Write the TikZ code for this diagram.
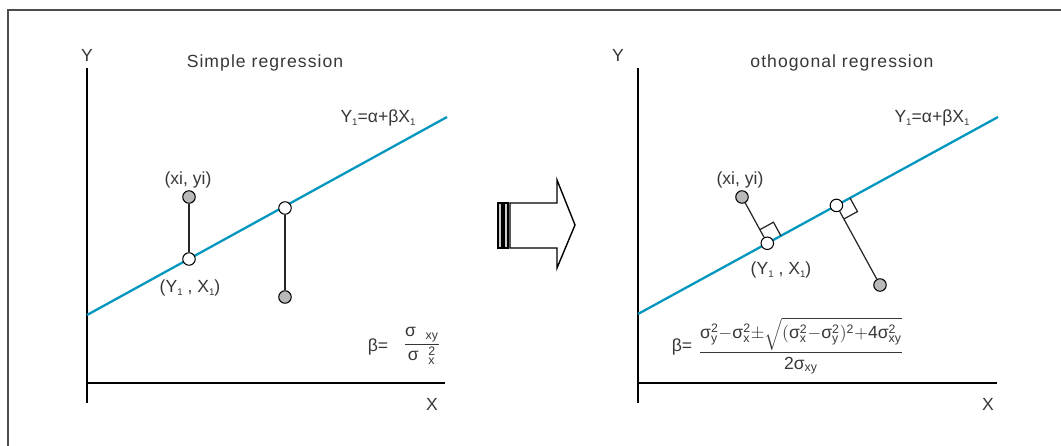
\documentclass[tikz,border=0pt]{standalone}
\usepackage{amsmath}
\usepackage{fontspec}
\setmainfont{Liberation Sans}
\usetikzlibrary{calc}
\definecolor{regblue}{RGB}{0,150,190}
\definecolor{txtgray}{RGB}{55,55,55}
\newcommand{\sgm}{\text{σ}}
\newcommand{\tx}[1]{\text{#1}}
\newcommand{\sbs}[1]{\raisebox{-0.3ex}{\fontsize{5.5}{6}\selectfont #1}}
\begin{document}
\begin{tikzpicture}[x=0.02cm, y=-0.02cm, font=\fontsize{10}{12}\selectfont,
	axis/.style={line width=1.6pt},
	fitline/.style={regblue, line width=1.3pt},
	obs/.style={circle, draw, line width=0.6pt, fill=gray!55, inner sep=0pt, minimum size=2.5mm},
	est/.style={circle, draw, line width=0.6pt, fill=white, inner sep=0pt, minimum size=2.5mm},
	resid/.style={line width=0.7pt, black!85},
	lbl/.style={text=txtgray, inner sep=1pt},
	title/.style={lbl, font=\fontsize{10}{12}\selectfont\addfontfeature{LetterSpace=6}}]
		\useasboundingbox (0,0) rectangle (1061,446);
		\draw[gray!60!black, line width=0.8pt] (8,446) -- (8,10) -- (1061,10);

		% simple regression
		\draw[axis] (87,68) -- (87,403);
		\draw[axis] (86,383) -- (445,383);
		\node[lbl] (Y1) at (87,55) {Y};
		\node[lbl] (X1) at (432,404) {X};
		\node[title] (t1) at (265,63) {Simple regression};
		\coordinate (A1) at (87,315);
		\coordinate (B1) at (447,117);
		\draw[fitline] (A1) -- (B1);
		\node[lbl] (eq1) at (378,118) {Y\sbs{1}=α+βX\sbs{1}};
		\node[obs] (p1) at (189,197) {};
		\node[est] (q1) at (189,259) {};
		\node[est] (q2) at (285,208) {};
		\node[obs] (p2) at (285,297) {};
		\draw[resid] (p1) -- (q1);
		\draw[resid] (q2) -- (p2);
		\node[lbl] (lp1) at (188,180) {(xi, yi)};
		\node[lbl] (lq1) at (190,288) {(Y\sbs{1} , X\sbs{1})};
		\node[lbl] (b1) at (378,347) {β=};
		\node[lbl] (f1) at (422,346) {$\dfrac{\sgm\;\;_{\tx{xy}}}{\sgm\;\;{}^{\tx{2}}_{\tx{x}}}$};

		% arrow
		\draw[line width=0.8pt, fill=white] (510,203) -- (557,203) -- (557,180) -- (575,225)
			-- (557,268) -- (557,248) -- (510,248) -- cycle;
		\draw[line width=0.6pt, fill=gray!40] (498,203) rectangle (502,248);
		\draw[line width=0.6pt, fill=gray!40] (504,203) rectangle (508,248);

		% othogonal regression
		\draw[axis] (638,68) -- (638,403);
		\draw[axis] (637,383) -- (997,383);
		\node[lbl] (Y2) at (618,55) {Y};
		\node[lbl] (X2) at (988,404) {X};
		\node[title] (t2) at (842,63) {othogonal regression};
		\coordinate (A2) at (638,314);
		\coordinate (B2) at (998,117);
		\draw[fitline] (A2) -- (B2);
		\node[lbl] (eq2) at (932,118) {Y\sbs{1}=α+βX\sbs{1}};
		\node[obs] (p3) at (742,197) {};
		\node[est] (q3) at ($(A2)!(p3)!(B2)$) {};
		\node[obs] (p4) at (880,285) {};
		\node[est] (q4) at ($(A2)!(p4)!(B2)$) {};
		\draw[resid] (p3) -- (q3);
		\draw[resid] (q4) -- (p4);
		\coordinate (u3) at ($(q3)!0.31cm!(p3)$);
		\coordinate (v3) at ($(q3)!0.31cm!(B2)$);
		\draw[resid] (u3) -- ($(u3)+(v3)-(q3)$) -- (v3);
		\coordinate (u4) at ($(q4)!0.31cm!(p4)$);
		\coordinate (v4) at ($(q4)!0.31cm!(B2)$);
		\draw[resid] (u4) -- ($(u4)+(v4)-(q4)$) -- (v4);
		\node[lbl] (lp3) at (740,180) {(xi, yi)};
		\node[lbl] (lq3) at (781,270) {(Y\sbs{1} , X\sbs{1})};
		\node[lbl] (b2) at (682,347) {β=};
		\node[lbl] (f2) at (801,346) {$\dfrac{\sgm^{\tx{2}}_{\tx{y}}{-}\sgm^{\tx{2}}_{\tx{x}}{\pm}\sqrt{(\sgm^{\tx{2}}_{\tx{x}}{-}\sgm^{\tx{2}}_{\tx{y}})^{\tx{2}}{+}\tx{4}\sgm^{\tx{2}}_{\tx{xy}}}}{\tx{2}\sgm_{\tx{xy}}}$};
	\end{tikzpicture}
\end{document}
